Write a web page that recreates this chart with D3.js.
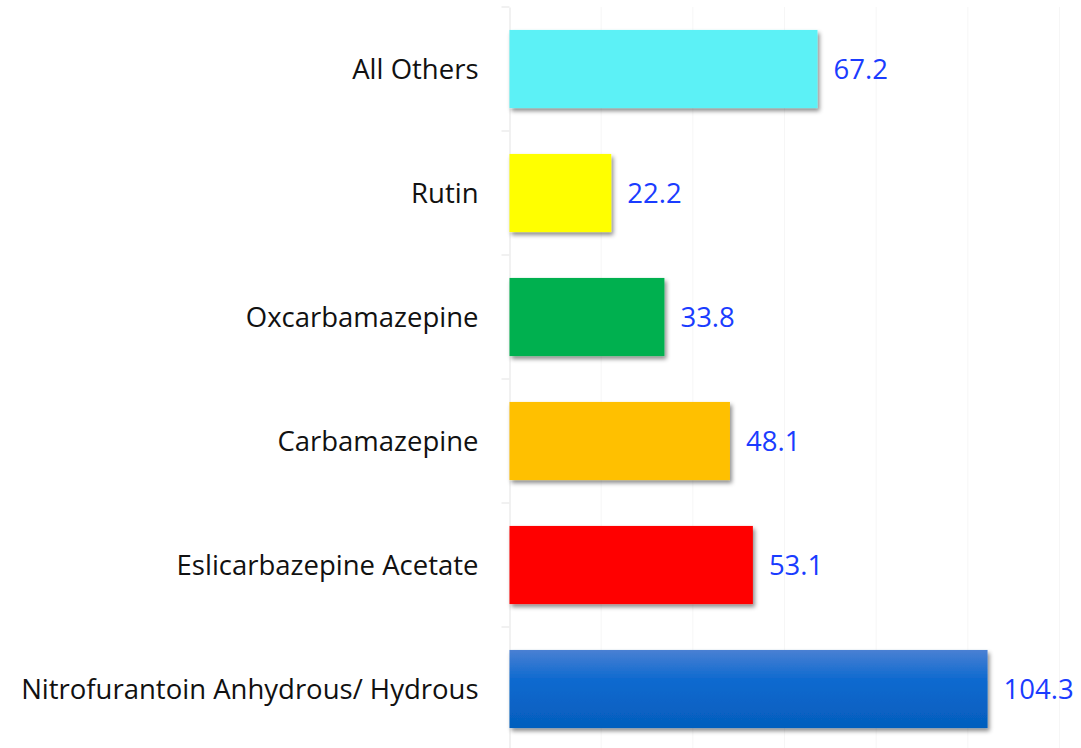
<!DOCTYPE html>
<html lang="en">
<head>
<meta charset="UTF-8">
<title>bar chart</title>
<script src="https://cdn.jsdelivr.net/npm/d3@7"></script>
<style>
  body { margin: 0; background: #fff; }
  svg { display: block; }
  .cat { font-family: "Open Sans", sans-serif; font-size: 27.5px; fill: #111; }
  .val { font-family: "Open Sans", sans-serif; font-size: 27.5px; fill: #1a3cff; }
</style>
</head>
<body>
<script>
const categories = ["All Others", "Rutin", "Oxcarbamazepine", "Carbamazepine", "Eslicarbazepine Acetate", "Nitrofurantoin Anhydrous/ Hydrous"];
const values = [67.2, 22.2, 33.8, 48.1, 53.1, 104.3];
const colors = ["#5cf1f6", "#ffff00", "#00b050", "#ffc000", "#ff0000", "url(#blueGrad)"];
const gridTicks = [20, 40, 60, 80, 100, 120];

const w = 1081, h = 748;
const axisX = 509.5;

const svg = d3.select("body").append("svg").attr("width", w).attr("height", h);

const defs = svg.append("defs");
const grad = defs.append("linearGradient").attr("id", "blueGrad")
  .attr("x1", 0).attr("y1", 0).attr("x2", 0).attr("y2", 1);
grad.append("stop").attr("offset", "0%").attr("stop-color", "#4a80d3");
grad.append("stop").attr("offset", "40%").attr("stop-color", "#0b69cf");
grad.append("stop").attr("offset", "100%").attr("stop-color", "#055ebd");

const shadow = defs.append("filter").attr("id", "shadow")
  .attr("x", "-10%").attr("y", "-10%").attr("width", "130%").attr("height", "140%");
shadow.append("feDropShadow").attr("dx", 2).attr("dy", 3).attr("stdDeviation", 2)
  .attr("flood-color", "#000").attr("flood-opacity", 0.45);

const x = d3.scaleLinear().domain([0, 120]).range([axisX, axisX + 550]);
const y = d3.scaleBand().domain(categories).range([7, 751]).paddingInner(0.37).paddingOuter(0.185);

// faint gridlines
svg.append("g").selectAll("line").data(gridTicks).enter().append("line")
  .attr("x1", d => x(d)).attr("x2", d => x(d))
  .attr("y1", 7).attr("y2", h)
  .attr("stroke", "#f6f6f6").attr("stroke-width", 1);

// category axis
const yAxis = d3.axisLeft(y).tickSize(0).tickPadding(31).tickFormat(d => d);
const gy = svg.append("g").attr("transform", `translate(${axisX},0)`).call(yAxis);
gy.select(".domain").attr("stroke", "#ececec").attr("stroke-width", 1.5);
gy.selectAll(".tick text").attr("class", "cat").attr("fill", null).attr("dy", "0.36em");

// tick marks at band boundaries
svg.append("g").selectAll("line").data(categories).enter().append("line")
  .attr("x1", axisX - 8).attr("x2", axisX)
  .attr("y1", d => y(d) - y.step() * y.paddingInner() / 2)
  .attr("y2", d => y(d) - y.step() * y.paddingInner() / 2)
  .attr("stroke", "#ececec").attr("stroke-width", 1.5);

// bars
svg.append("g").selectAll("rect").data(categories).enter().append("rect")
  .attr("x", x(0))
  .attr("y", d => y(d))
  .attr("width", (d, i) => x(values[i]) - x(0))
  .attr("height", y.bandwidth())
  .attr("fill", (d, i) => colors[i])
  .attr("filter", "url(#shadow)");

// value labels
svg.append("g").selectAll("text").data(categories).enter().append("text")
  .attr("class", "val")
  .attr("x", (d, i) => x(values[i]) + 16)
  .attr("y", d => y(d) + y.bandwidth() / 2)
  .attr("dy", "0.38em")
  .text((d, i) => values[i].toFixed(1));
</script>
</body>
</html>
